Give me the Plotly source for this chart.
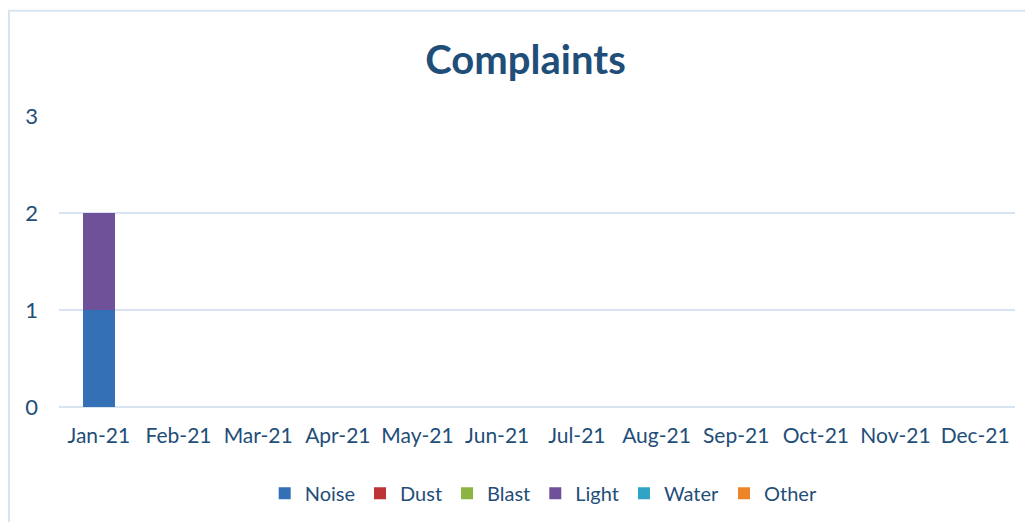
import plotly.graph_objects as go

months = ["Jan-21", "Feb-21", "Mar-21", "Apr-21", "May-21", "Jun-21",
          "Jul-21", "Aug-21", "Sep-21", "Oct-21", "Nov-21", "Dec-21"]
noise = [1, 0, 0, 0, 0, 0, 0, 0, 0, 0, 0, 0]
dust = [0, 0, 0, 0, 0, 0, 0, 0, 0, 0, 0, 0]
blast = [0, 0, 0, 0, 0, 0, 0, 0, 0, 0, 0, 0]
light = [1, 0, 0, 0, 0, 0, 0, 0, 0, 0, 0, 0]
water = [0, 0, 0, 0, 0, 0, 0, 0, 0, 0, 0, 0]
other = [0, 0, 0, 0, 0, 0, 0, 0, 0, 0, 0, 0]
y_ticks = [0, 1, 2, 3]

series = [
    ("Noise", noise, "#3470B6"),
    ("Dust", dust, "#BE3436"),
    ("Blast", blast, "#8CB443"),
    ("Light", light, "#6F519A"),
    ("Water", water, "#2FA3C6"),
    ("Other", other, "#EE8428"),
]

text_col = "#1F4E79"
grid_col = "#D9E4F2"

fig = go.Figure()
for name, vals, col in series:
    fig.add_bar(x=months, y=vals, name=name, marker_color=col,
                marker_line_width=0)

# page body has an 8px margin, so margins are shifted to compensate
fig.update_layout(
    width=1033,
    height=522,
    barmode="stack",
    bargap=0.59,
    paper_bgcolor="white",
    plot_bgcolor="white",
    font=dict(family="Lato, Open Sans, sans-serif", color=text_col, size=21),
    title=dict(text="<b>Complaints</b>", x=0.501, xanchor="center",
               y=0.90, yanchor="middle",
               font=dict(size=40, color=text_col)),
    margin=dict(l=51, r=26, t=108, b=123),
    xaxis=dict(showgrid=False, showline=False, ticks="",
               ticklabelstandoff=14, tickfont=dict(size=21)),
    yaxis=dict(range=[0, 3], tickvals=y_ticks, showgrid=True,
               gridcolor=grid_col, gridwidth=2, zeroline=True,
               zerolinecolor=grid_col, zerolinewidth=2, showline=False,
               ticks="", ticklabelstandoff=20, tickfont=dict(size=22)),
    legend=dict(orientation="h", x=0.507, xanchor="center", y=-0.296,
                yanchor="middle", font=dict(size=20), traceorder="normal",
                itemwidth=30),
    showlegend=True,
)

fig.add_shape(type="rect", xref="paper", yref="paper",
              x0=-0.0523, x1=1.05, y0=-0.5, y1=1.362,
              line=dict(color=grid_col, width=2), layer="below")

fig.write_html("out.html")
